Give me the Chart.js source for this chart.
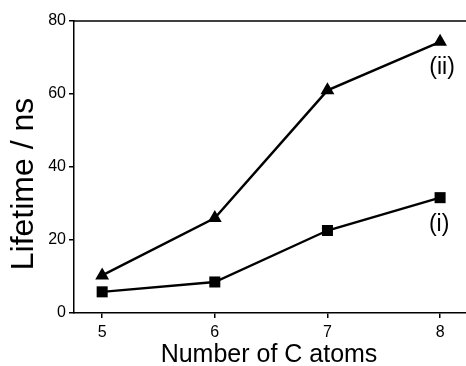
<!DOCTYPE html>
<html><head><meta charset="utf-8">
<script src="https://cdn.jsdelivr.net/npm/chart.js@4/dist/chart.umd.min.js"></script>
<style>html,body{margin:0;padding:0;background:#fff}#wrap{width:466px;height:366px}</style>
</head><body><div id="wrap"><canvas id="c" width="466" height="366"></canvas></div>
<script>
const carbonAtoms = [5, 6, 7, 8];
const lifetimeI = [5.8, 8.5, 22.6, 31.6];
const lifetimeII = [10.3, 26, 61, 74.3];
const yTicks = [0, 20, 40, 60, 80];
const seriesLabels = ['(i)', '(ii)'];
const xTitle = 'Number of C atoms';
const yTitle = 'Lifetime / ns';

const font = "'Liberation Sans', Arial, sans-serif";

const labelPlugin = {
  id: 'labels',
  afterDraw(chart) {
    const {ctx, chartArea, scales} = chart;
    ctx.save();
    ctx.strokeStyle = '#000'; ctx.lineWidth = 1.5;
    ctx.beginPath(); ctx.moveTo(chartArea.left, chartArea.top); ctx.lineTo(chartArea.right, chartArea.top); ctx.stroke();
    ctx.fillStyle = '#000';
    ctx.font = '23px ' + font;
    ctx.textAlign = 'center'; ctx.textBaseline = 'middle';
    const last = carbonAtoms.length - 1;
    const xs = scales.x.getPixelForValue(carbonAtoms[last]);
    ctx.fillText(seriesLabels[0], xs - 1, scales.y.getPixelForValue(lifetimeI[last]) + 27);
    ctx.fillText(seriesLabels[1], xs + 2, scales.y.getPixelForValue(lifetimeII[last]) + 26);
    ctx.font = '25px ' + font;
    ctx.textBaseline = 'alphabetic';
    ctx.fillText(xTitle, (chartArea.left + chartArea.right) / 2 - 1, 362);
    ctx.translate(33, 184);
    ctx.rotate(-Math.PI / 2);
    ctx.font = '32px ' + font;
    ctx.fillText(yTitle, 0, 0);
    ctx.restore();
  }
};

new Chart(document.getElementById('c'), {
  type: 'line',
  data: {
    datasets: [
      {label: seriesLabels[0], data: carbonAtoms.map((x,i)=>({x, y: lifetimeI[i]})), borderColor:'#000', backgroundColor:'#000', borderWidth:2.4, pointStyle:'rect', pointRadius:7.8, pointBorderWidth:0, tension:0, clip:false},
      {label: seriesLabels[1], data: carbonAtoms.map((x,i)=>({x, y: lifetimeII[i]})), borderColor:'#000', backgroundColor:'#000', borderWidth:2.4, pointStyle:'triangle', pointRadius:8, pointBorderWidth:0, tension:0, clip:false}
    ]
  },
  options: {
    responsive:false, animation:false, devicePixelRatio:1,
    layout:{autoPadding:false, padding:{top:21, right:0, left:0, bottom:0}},
    plugins:{legend:{display:false}, tooltip:{enabled:false}},
    scales:{
      x:{type:'linear', min:4.75, max:8.23,
        afterBuildTicks(s){ s.ticks = carbonAtoms.map(v=>({value:v})); },
        afterFit(s){ s.height = 53; s.paddingRight = 0; s.paddingLeft = 0; },
        border:{display:true, color:'#000', width:1.5},
        grid:{display:true, drawOnChartArea:false, drawTicks:true, tickLength:5, color:'#000', lineWidth:1.5},
        ticks:{color:'#000', font:{family:font, size:16}, padding:5, maxRotation:0}
      },
      y:{type:'linear', min:0, max:80,
        afterBuildTicks(s){ s.ticks = yTicks.map(v=>({value:v})); },
        afterFit(s){ s.width = 74; },
        border:{display:true, color:'#000', width:1.5},
        grid:{display:true, drawOnChartArea:false, drawTicks:true, tickLength:5, color:'#000', lineWidth:1.5},
        ticks:{color:'#000', font:{family:font, size:16}, padding:3}
      }
    }
  },
  plugins:[labelPlugin]
});
</script></body></html>
